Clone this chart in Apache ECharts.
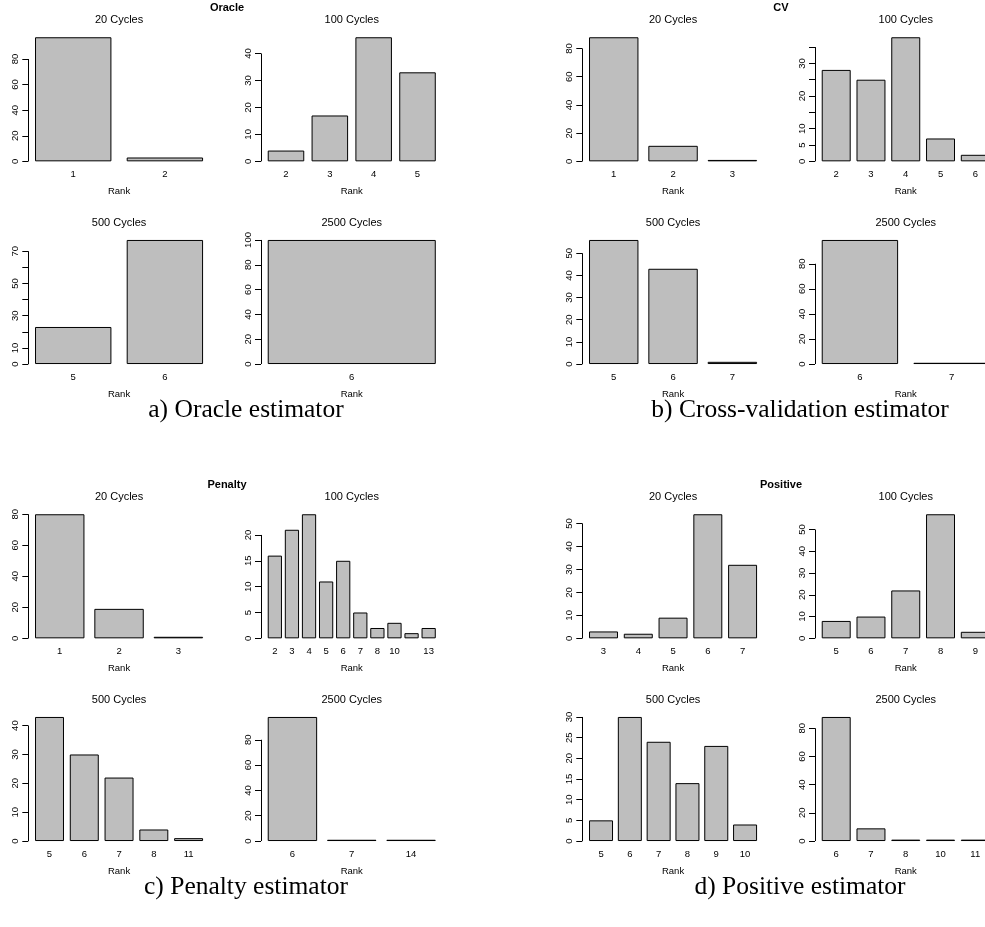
<!DOCTYPE html>
<html><head><meta charset="utf-8">
<script src="https://cdn.jsdelivr.net/npm/echarts@6/dist/echarts.min.js"></script>
<style>html,body{margin:0;padding:0;background:#fff}#c{width:985px;height:927px}</style>
</head><body><div id="c"></div>
<script>
// ---------------- data ----------------
const cycleTitles = ['20 Cycles', '100 Cycles', '500 Cycles', '2500 Cycles'];
const estimatorNames = ['Oracle', 'CV', 'Penalty', 'Positive'];
const captionTexts = ['a) Oracle estimator', 'b) Cross-validation estimator', 'c) Penalty estimator', 'd) Positive estimator'];

const oracle20Ranks = ['1', '2'];
const oracle20Counts = [97, 3];
const oracle100Ranks = ['2', '3', '4', '5'];
const oracle100Counts = [4, 17, 46, 33];
const oracle500Ranks = ['5', '6'];
const oracle500Counts = [23, 77];
const oracle2500Ranks = ['6'];
const oracle2500Counts = [100];

const cv20Ranks = ['1', '2', '3'];
const cv20Counts = [88, 11, 1];
const cv100Ranks = ['2', '3', '4', '5', '6'];
const cv100Counts = [28, 25, 38, 7, 2];
const cv500Ranks = ['5', '6', '7'];
const cv500Counts = [56, 43, 1];
const cv2500Ranks = ['6', '7'];
const cv2500Counts = [99, 1];

const penalty20Ranks = ['1', '2', '3'];
const penalty20Counts = [80, 19, 1];
const penalty100Ranks = ['2', '3', '4', '5', '6', '7', '8', '10', '11', '13'];
const penalty100Counts = [16, 21, 24, 11, 15, 5, 2, 3, 1, 2];
const penalty500Ranks = ['5', '6', '7', '8', '11'];
const penalty500Counts = [43, 30, 22, 4, 1];
const penalty2500Ranks = ['6', '7', '14'];
const penalty2500Counts = [98, 1, 1];

const positive20Ranks = ['3', '4', '5', '6', '7'];
const positive20Counts = [3, 2, 9, 54, 32];
const positive100Ranks = ['5', '6', '7', '8', '9'];
const positive100Counts = [8, 10, 22, 57, 3];
const positive500Ranks = ['5', '6', '7', '8', '9', '10'];
const positive500Counts = [5, 30, 24, 14, 23, 4];
const positive2500Ranks = ['6', '7', '8', '10', '11'];
const positive2500Counts = [88, 9, 1, 1, 1];

// y-axis ticks (and the labels R kept where they differ)
const ticks20by0to80 = [0, 20, 40, 60, 80];
const ticks20by0to100 = [0, 20, 40, 60, 80, 100];
const ticks10by0to40 = [0, 10, 20, 30, 40];
const ticks10by0to50 = [0, 10, 20, 30, 40, 50];
const ticks10by0to70 = [0, 10, 20, 30, 40, 50, 60, 70];
const labels0to70 = [0, 10, 30, 50, 70];
const ticks5by0to35 = [0, 5, 10, 15, 20, 25, 30, 35];
const labels0to35 = [0, 5, 10, 20, 30];
const ticks5by0to20 = [0, 5, 10, 15, 20];
const ticks5by0to30 = [0, 5, 10, 15, 20, 25, 30];
const penalty100HiddenRankLabels = ['11'];

// ---------------- layout (pixels) ----------------
const PANEL_X = [0, 554];
const PANEL_Y = [0, 477];
const COL_L = [28.3, 261];
const ROW_T = [32.3, 235];
const REG_W = 181.5, REG_H = 134;
const SUBTITLE_Y = [20, 223.3];
const NAME_X = 227, NAME_Y = 7.5;
const CAPTION_X = 246, CAPTION_Y = 410;
const SANS = 'Liberation Sans';
const SERIF = 'Liberation Serif';

const panels = [
  { subs: [
    { ranks: oracle20Ranks, counts: oracle20Counts, ticks: ticks20by0to80 },
    { ranks: oracle100Ranks, counts: oracle100Counts, ticks: ticks10by0to40 },
    { ranks: oracle500Ranks, counts: oracle500Counts, ticks: ticks10by0to70, labels: labels0to70 },
    { ranks: oracle2500Ranks, counts: oracle2500Counts, ticks: ticks20by0to100 }
  ]},
  { subs: [
    { ranks: cv20Ranks, counts: cv20Counts, ticks: ticks20by0to80 },
    { ranks: cv100Ranks, counts: cv100Counts, ticks: ticks5by0to35, labels: labels0to35 },
    { ranks: cv500Ranks, counts: cv500Counts, ticks: ticks10by0to50 },
    { ranks: cv2500Ranks, counts: cv2500Counts, ticks: ticks20by0to80 }
  ]},
  { subs: [
    { ranks: penalty20Ranks, counts: penalty20Counts, ticks: ticks20by0to80 },
    { ranks: penalty100Ranks, counts: penalty100Counts, ticks: ticks5by0to20, hidden: penalty100HiddenRankLabels },
    { ranks: penalty500Ranks, counts: penalty500Counts, ticks: ticks10by0to40 },
    { ranks: penalty2500Ranks, counts: penalty2500Counts, ticks: ticks20by0to80 }
  ]},
  { subs: [
    { ranks: positive20Ranks, counts: positive20Counts, ticks: ticks10by0to50 },
    { ranks: positive100Ranks, counts: positive100Counts, ticks: ticks10by0to50 },
    { ranks: positive500Ranks, counts: positive500Counts, ticks: ticks5by0to30 },
    { ranks: positive2500Ranks, counts: positive2500Counts, ticks: ticks20by0to80 }
  ]}
];

const grids = [], xAxes = [], yAxes = [], series = [], titles = [];

panels.forEach((p, pi) => {
  const px = PANEL_X[pi % 2], py = PANEL_Y[Math.floor(pi / 2)];
  titles.push({
    text: estimatorNames[pi], left: px + NAME_X, top: py + NAME_Y,
    textAlign: 'center', textVerticalAlign: 'middle', padding: 0,
    textStyle: { fontFamily: SANS, fontSize: 11, fontWeight: 'bold', color: '#000' }
  });
  titles.push({
    text: captionTexts[pi], left: px + CAPTION_X, top: py + CAPTION_Y,
    textAlign: 'center', textVerticalAlign: 'middle', padding: 0,
    textStyle: { fontFamily: SERIF, fontSize: 25.5, fontWeight: 'normal', color: '#000' }
  });
  p.subs.forEach((s, si) => {
    const col = si % 2, row = Math.floor(si / 2);
    const L = px + COL_L[col], T = py + ROW_T[row];
    const n = s.ranks.length;
    const span = 1.2 * n - 0.2;
    const u = REG_W / (1.08 * span);
    const ext = 0.04 * span * u;
    const gl = L + ext - 0.1 * u, gw = 1.2 * n * u;
    const gi = grids.length;
    const ymax = Math.max(...s.counts);
    const labels = s.labels || s.ticks;
    const hidden = s.hidden || [];
    grids.push({ left: gl, top: T, width: gw, height: REG_H, containLabel: false, outerBoundsMode: 'none' });
    titles.push({
      text: cycleTitles[si], left: L + REG_W / 2, top: py + SUBTITLE_Y[row],
      textAlign: 'center', textVerticalAlign: 'middle', padding: 0,
      textStyle: { fontFamily: SANS, fontSize: 11, fontWeight: 'normal', color: '#000' }
    });
    xAxes.push({
      gridIndex: gi, type: 'category', data: s.ranks,
      axisLine: { show: false, onZero: false }, axisTick: { show: false },
      splitLine: { show: false },
      axisLabel: {
        interval: 0, margin: row === 0 ? 3 : 3.5, fontFamily: SANS, fontSize: 9.5, color: '#000',
        formatter: v => hidden.includes(v) ? '' : v
      },
      name: 'Rank', nameLocation: 'middle', nameGap: 20.5,
      nameTextStyle: { fontFamily: SANS, fontSize: 9.5, color: '#000' }
    });
    yAxes.push({
      gridIndex: gi, type: 'value', min: -0.04 * ymax, max: 1.04 * ymax,
      offset: gl - L,
      splitLine: { show: false },
      axisLine: { show: false },
      axisTick: { show: true, length: 6, customValues: s.ticks, lineStyle: { color: '#000', width: 1 } },
      axisLabel: { customValues: labels, rotate: 90, margin: 8, fontFamily: SANS, fontSize: 9.5, color: '#000' }
    });
    series.push({
      type: 'bar', xAxisIndex: gi, yAxisIndex: gi, data: s.counts,
      barCategoryGap: '16.6667%',
      itemStyle: { color: '#bebebe', borderColor: '#000', borderWidth: 1 },
      silent: true,
      markLine: {
        silent: true, symbol: ['none', 'none'], label: { show: false },
        lineStyle: { color: '#000', width: 1, type: 'solid' },
        emphasis: { disabled: true },
        data: [[
          { x: L, coord: [s.ranks[0], s.ticks[0]] },
          { x: L, coord: [s.ranks[0], s.ticks[s.ticks.length - 1]] }
        ]]
      }
    });
  });
});

const chart = echarts.init(document.getElementById('c'), null, { renderer: 'canvas' });
chart.setOption({
  backgroundColor: '#fff',
  animation: false,
  title: titles,
  grid: grids,
  xAxis: xAxes,
  yAxis: yAxes,
  series: series
});
</script>
</body></html>
